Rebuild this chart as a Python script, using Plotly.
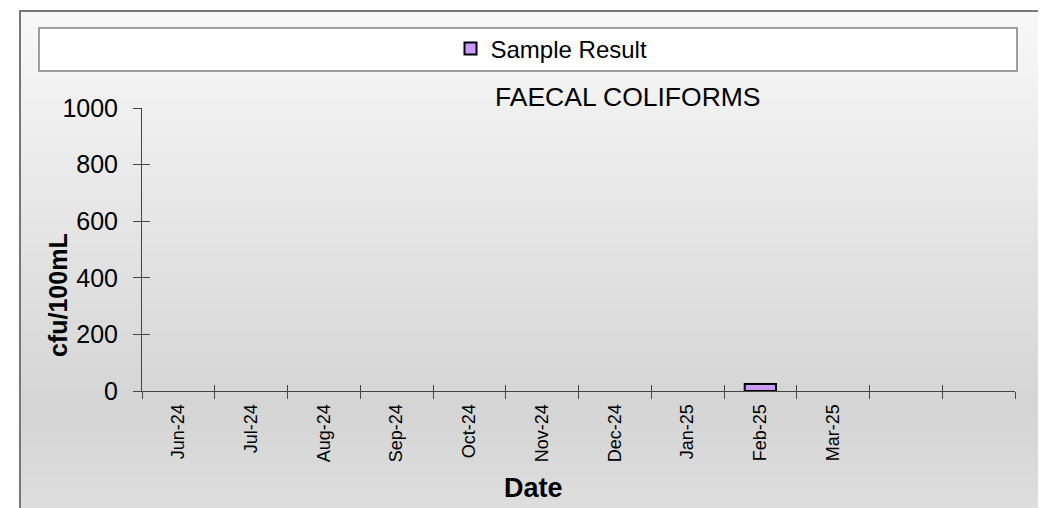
import plotly.graph_objects as go

# Data
months = ['Jun-24', 'Jul-24', 'Aug-24', 'Sep-24', 'Oct-24', 'Nov-24',
          'Dec-24', 'Jan-25', 'Feb-25', 'Mar-25', ' ', '  ']
sample_result = [None, None, None, None, None, None, None, None, 25, None, None, None]

W, H = 1046, 508
OFF = 8  # page body margin, everything below is given in screen pixels
X0, X1, Y0, Y1 = 142, 1015, 108, 391  # plot area on screen
L, R, T, B = X0 - OFF, W - (X1 - OFF), Y0 - OFF, H - (Y1 - OFF)
PW, PH = X1 - X0, Y1 - Y0


def px_x(x):
    return (x - X0) / PW


def px_y(y):
    return (Y1 - y) / PH


def grey_at(y):
    # background gradient of the chart area
    stops = [(11, 248), (75, 243), (408, 213), (520, 223)]
    for (y0, c0), (y1, c1) in zip(stops[:-1], stops[1:]):
        if y <= y1:
            c = c0 + (c1 - c0) * (y - y0) / (y1 - y0)
            return 'rgb(%d,%d,%d)' % (c, c, c)
    return 'rgb(223,223,223)'


fig = go.Figure()
fig.add_trace(go.Bar(x=months, y=sample_result, name='Sample Result',
                     width=0.43, marker_color='#cc99ff',
                     marker_line_color='black', marker_line_width=2))
# empty trace so the inside-tick overlay axes get drawn
fig.add_trace(go.Scatter(x=[None], y=[None], xaxis='x2', yaxis='y2',
                         showlegend=False, hoverinfo='skip'))

shapes = []
step = 4
for y in range(11, H + 12, step):
    shapes.append(dict(type='rect', xref='paper', yref='paper', layer='below',
                       x0=px_x(20), x1=px_x(W + 20), y0=px_y(y), y1=px_y(y + step + 1),
                       fillcolor=grey_at(y + step / 2), line_width=0))
# outer frame
shapes.append(dict(type='rect', xref='paper', yref='paper', layer='below',
                   x0=px_x(20), x1=px_x(W + 30), y0=px_y(11), y1=px_y(H + 30),
                   line=dict(color='#777777', width=2), fillcolor='rgba(0,0,0,0)'))
# legend box
shapes.append(dict(type='rect', xref='paper', yref='paper', layer='below',
                   x0=px_x(39), x1=px_x(1017), y0=px_y(28), y1=px_y(71),
                   line=dict(color='#808080', width=1.5), fillcolor='white'))

font = 'Liberation Sans, Arial, sans-serif'

fig.update_layout(
    width=W, height=H,
    margin=dict(l=L, r=R, t=T, b=B),
    paper_bgcolor='white',
    plot_bgcolor='rgba(0,0,0,0)',
    font=dict(family=font, color='black'),
    shapes=shapes,
    showlegend=True,
    legend=dict(x=px_x(551.5), y=px_y(49), xanchor='center', yanchor='middle',
                bgcolor='rgba(0,0,0,0)', font=dict(size=24), orientation='h'),
    xaxis=dict(type='category', tickson='boundaries', ticks='outside', ticklen=7,
               tickcolor='#444444', showline=True, linecolor='#444444', linewidth=1,
               tickangle=-90, tickfont=dict(size=18), ticklabelstandoff=5,
               showgrid=False, zeroline=False, range=[-0.5, 11.5]),
    yaxis=dict(range=[0, 1000], dtick=200, ticks='outside', ticklen=8,
               tickcolor='#444444', showline=True, linecolor='#444444', linewidth=1,
               tickfont=dict(size=25), ticklabelstandoff=10,
               showgrid=False, zeroline=False),
    xaxis2=dict(overlaying='x', range=[0, 12], tickvals=list(range(13)), ticks='inside',
                ticklen=6, tickcolor='#444444', showticklabels=False, showgrid=False,
                zeroline=False, showline=False),
    yaxis2=dict(overlaying='y', range=[0, 1000], dtick=200, ticks='inside', ticklen=8,
                tickcolor='#444444', showticklabels=False, showgrid=False,
                zeroline=False, showline=False),
    annotations=[
        dict(text='FAECAL COLIFORMS', xref='paper', yref='paper', x=px_x(628), y=px_y(97),
             xanchor='center', yanchor='middle', showarrow=False, font=dict(size=26.5)),
        dict(text='<b>Date</b>', xref='paper', yref='paper', x=px_x(533), y=px_y(488),
             xanchor='center', yanchor='middle', showarrow=False, font=dict(size=27)),
        dict(text='<b>cfu/100mL</b>', xref='paper', yref='paper', x=px_x(58), y=px_y(295),
             xanchor='center', yanchor='middle', showarrow=False, textangle=-90,
             font=dict(size=25)),
    ],
)

fig.write_html('out.html')
